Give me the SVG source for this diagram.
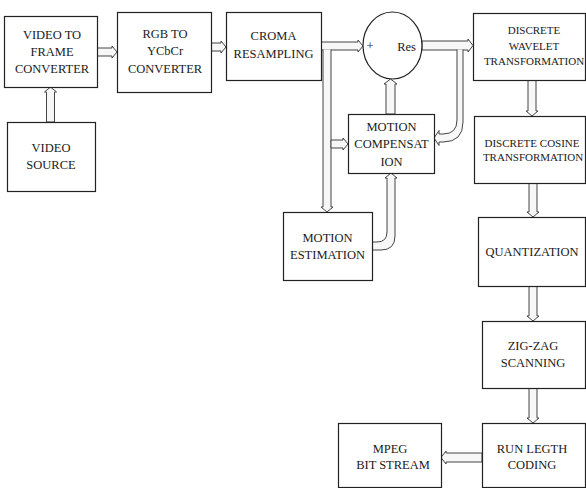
<svg xmlns="http://www.w3.org/2000/svg" width="586" height="488" viewBox="0 0 586 488">
<style>
.box{fill:#fff;stroke:#222;stroke-width:1.2}
.arr{fill:#f7f7f7;stroke:#444;stroke-width:1}
</style>
<rect width="586" height="488" fill="#fff"/>
<g id="connectors">
<polygon class="arr" points="97,48 112,48 112,46 117,52 112,58 112,56 97,56"/>
<polygon class="arr" points="211,43 221,43 221,41 226,47 221,53 221,51 211,51"/>
<polygon class="arr" points="321,42 358,42 358,40 363,46 358,52 358,50 321,50"/>
<polygon class="arr" points="422,41 468,41 468,39 473,45.5 468,52 468,50 422,50"/>
<path class="arr" d="M457,49.5 V120 Q457,134 443,134 H439 V130.5 L434,138 L439,145.5 V142 H443 Q463,142 463,122 V49.5"/>
<path class="arr" d="M323,49.5 V207 H321 L327,212 L333,207 H331 V49.5"/>
<polygon class="arr" points="331,140 343,140 343,138 348,144 343,150 343,148 331,148"/>
<polygon class="arr" points="386,114 386,84 384,84 390.5,79 397,84 395,84 395,114"/>
<path class="arr" d="M372,242 H377 Q387,242 387,232 V178 H385 L391,173 L397,178 H395 V236 Q395,250 381,250 H372"/>
<polygon class="arr" points="46.5,122 46.5,92 44.5,92 50.5,87 56.5,92 54.5,92 54.5,122"/>
<polygon class="arr" points="528,80 528,111 526,111 532,116 538,111 536,111 536,80"/>
<polygon class="arr" points="529,183 529,212 527,212 533,217 539,212 537,212 537,183"/>
<polygon class="arr" points="529,286 529,316 527,316 533,321 539,316 537,316 537,286"/>
<polygon class="arr" points="529,388 529,418 527,418 533,423 539,418 537,418 537,388"/>
<polygon class="arr" points="482,453 446,453 446,451 441,457.5 446,464 446,462 482,462"/>
</g>
<g font-family="Liberation Serif, Times New Roman, serif" font-size="25" fill="#1a1a1a" text-anchor="middle">
<g id="video-frame">
<rect class="box" x="4.5" y="16.5" width="93" height="71"/>
<text transform="translate(52 39) scale(.5)">VIDEO TO</text>
<text transform="translate(52 56) scale(.5)">FRAME</text>
<text transform="translate(52 73) scale(.5)">CONVERTER</text>
</g>
<g id="video-source">
<rect class="box" x="7.5" y="122.5" width="88" height="69"/>
<text transform="translate(51 152) scale(.5)">VIDEO</text>
<text transform="translate(51 169) scale(.5)">SOURCE</text>
</g>
<g id="rgb-ycbcr">
<rect class="box" x="117.5" y="12.5" width="94" height="80"/>
<text transform="translate(165 38) scale(.5)">RGB TO</text>
<text transform="translate(165 55) scale(.5)">YCbCr</text>
<text transform="translate(165 73) scale(.5)">CONVERTER</text>
</g>
<g id="croma">
<rect class="box" x="226.5" y="12.5" width="95" height="68"/>
<text transform="translate(273.5 40) scale(.5)">CROMA</text>
<text transform="translate(273.5 58) scale(.5)">RESAMPLING</text>
</g>
<g id="sum">
<ellipse class="box" cx="392.5" cy="45.5" rx="29.5" ry="33.5"/>
<text transform="translate(370 50) scale(.5)">+</text>
<text transform="translate(406.5 51) scale(.5)">Res</text>
</g>
<g id="dwt" font-size="22">
<rect class="box" x="473.5" y="13.5" width="112" height="67"/>
<text transform="translate(534 34) scale(.5)">DISCRETE</text>
<text transform="translate(534 49.5) scale(.5)">WAVELET</text>
<text transform="translate(534 65) scale(.5)">TRANSFORMATION</text>
</g>
<g id="motion-compensation">
<rect class="box" x="348.5" y="114.5" width="86" height="59"/>
<text transform="translate(391.5 131) scale(.5)">MOTION</text>
<text transform="translate(391.5 148) scale(.5)">COMPENSAT</text>
<text transform="translate(391.5 166) scale(.5)">ION</text>
</g>
<g id="dct" font-size="22">
<rect class="box" x="474.5" y="116.5" width="111" height="67"/>
<text transform="translate(532 147) scale(.5)">DISCRETE COSINE</text>
<text transform="translate(533 161) scale(.5)">TRANSFORMATION</text>
</g>
<g id="motion-estimation">
<rect class="box" x="283.5" y="212.5" width="89" height="68"/>
<text transform="translate(327.5 242) scale(.5)">MOTION</text>
<text transform="translate(327.5 259) scale(.5)">ESTIMATION</text>
</g>
<g id="quantization">
<rect class="box" x="478.5" y="217.5" width="107" height="69"/>
<text transform="translate(532 256) scale(.5)">QUANTIZATION</text>
</g>
<g id="zigzag">
<rect class="box" x="482.5" y="321.5" width="103" height="67"/>
<text transform="translate(533 350) scale(.5)">ZIG-ZAG</text>
<text transform="translate(533 367) scale(.5)">SCANNING</text>
</g>
<g id="run-length">
<rect class="box" x="482.5" y="423.5" width="103" height="64"/>
<text transform="translate(532 453) scale(.5)">RUN LEGTH</text>
<text transform="translate(532 469) scale(.5)">CODING</text>
</g>
<g id="mpeg">
<rect class="box" x="338.5" y="423.5" width="103" height="64"/>
<text transform="translate(390 453) scale(.5)">MPEG</text>
<text transform="translate(393 469) scale(.5)">BIT STREAM</text>
</g>
</g>
</svg>
